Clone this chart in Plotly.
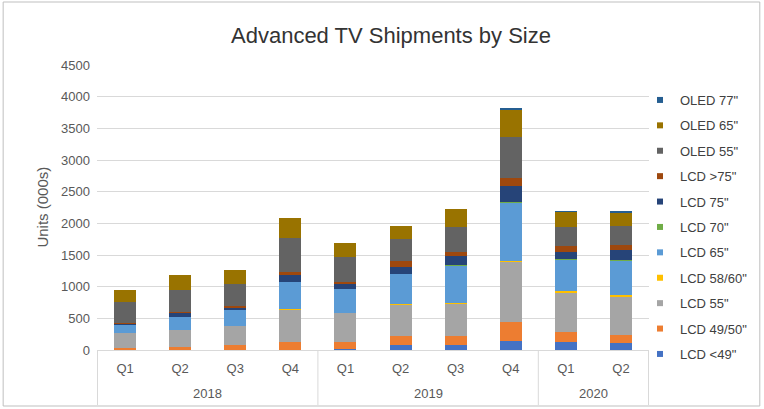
import plotly.graph_objects as go

years = ["2018", "2018", "2018", "2018", "2019", "2019", "2019", "2019", "2020", "2020"]
quarters = ["Q1", "Q2", "Q3", "Q4", "Q1", "Q2", "Q3", "Q4", "Q1", "Q2"]
year_labels = ["2018", "2019", "2020"]

series_names = ['LCD <49"', 'LCD 49/50"', 'LCD 55"', 'LCD 58/60"', 'LCD 65"', 'LCD 70"',
                'LCD 75"', 'LCD >75"', 'OLED 55"', 'OLED 65"', 'OLED 77"']

lcd_lt49 = [0, 0, 0, 0, 10, 75, 75, 150, 120, 110]
lcd_49_50 = [25, 40, 75, 130, 120, 145, 150, 290, 170, 130]
lcd_55 = [250, 275, 300, 510, 460, 500, 510, 950, 620, 590]
lcd_58_60 = [0, 0, 0, 5, 0, 5, 5, 10, 15, 40]
lcd_65 = [120, 210, 260, 435, 370, 480, 595, 925, 500, 550]
lcd_70 = [0, 0, 0, 0, 0, 0, 5, 10, 5, 5]
lcd_75 = [25, 60, 40, 100, 85, 105, 140, 250, 115, 150]
lcd_gt75 = [5, 10, 20, 55, 35, 90, 70, 130, 95, 90]
oled_55 = [340, 360, 350, 530, 385, 345, 390, 650, 300, 290]
oled_65 = [185, 230, 220, 315, 220, 210, 280, 430, 240, 220]
oled_77 = [0, 0, 0, 0, 0, 0, 0, 20, 10, 20]

series_values = [lcd_lt49, lcd_49_50, lcd_55, lcd_58_60, lcd_65, lcd_70,
                 lcd_75, lcd_gt75, oled_55, oled_65, oled_77]
colors = ["#4472C4", "#ED7D31", "#A5A5A5", "#FFC000", "#5B9BD5", "#70AD47",
          "#264478", "#9E480E", "#636363", "#997300", "#255E91"]

y_ticks = [0, 500, 1000, 1500, 2000, 2500, 3000, 3500, 4000, 4500]

cats = [y + " " + q for y, q in zip(years, quarters)]

fig = go.Figure()
for name, vals, col in zip(series_names, series_values, colors):
    fig.add_trace(go.Bar(
        x=cats, y=vals, name=name, showlegend=False,
        marker=dict(color=col, line=dict(width=0)),
    ))

# legend entries (top to bottom: OLED 77" ... LCD <49")
for i in range(len(series_names) - 1, -1, -1):
    fig.add_trace(go.Scatter(
        x=[None], y=[None], mode="markers", name=series_names[i],
        marker=dict(symbol="square", size=6, color=colors[i]),
        legendgroup="g%d" % i, showlegend=True,
    ))

W, H = 764, 409
L, R, T, B = 97, 114, 65, 59
pw, ph = W - L - R, H - T - B

def px(x):
    return (x - L) / pw

def py(y):
    return (H - B - y) / ph

group_starts = [0]
for k in range(1, len(years)):
    if years[k] != years[k - 1]:
        group_starts.append(k)
group_ends = group_starts[1:] + [len(years)]

annotations = []
for yl, s, e in zip(year_labels, group_starts, group_ends):
    annotations.append(dict(text=yl, x=(s + e - 1) / 2, xref="x", y=py(393), yref="paper",
                            showarrow=False, xanchor="center", yanchor="middle",
                            font=dict(size=13, color="#595959")))
annotations.append(dict(text="Units (000s)", x=px(42), xref="paper", y=0.5, yref="paper",
                        textangle=-90, showarrow=False, xanchor="center", yanchor="middle",
                        font=dict(size=15, color="#595959")))

shapes = [dict(type="rect", xref="paper", yref="paper",
               x0=px(3), x1=px(761), y0=py(406), y1=py(2),
               line=dict(color="#BFBFBF", width=1), fillcolor="rgba(0,0,0,0)", layer="below")]
for b in group_starts + [len(years)]:
    shapes.append(dict(type="line", xref="x", yref="paper", x0=b - 0.5, x1=b - 0.5,
                       y0=0, y1=py(405), line=dict(color="#D9D9D9", width=1)))

fig.update_layout(
    width=W, height=H,
    margin=dict(l=L, r=R, t=T, b=B),
    paper_bgcolor="white", plot_bgcolor="white",
    barmode="stack", bargap=0.6,
    font=dict(family="Liberation Sans, Arial, sans-serif", color="#595959", size=13),
    title=dict(text="Advanced TV Shipments by Size", x=391 / W, xanchor="center",
               y=1 - 35 / H, yanchor="middle",
               font=dict(size=22, color="#333333")),
    legend=dict(traceorder="grouped", tracegroupgap=5.5,
                x=px(640), xanchor="left", y=py(85), yanchor="top",
                font=dict(size=13, color="#404040"),
                bgcolor="rgba(0,0,0,0)"),
    yaxis=dict(range=[0, 4500], tickvals=y_ticks, showgrid=True,
               gridcolor="#D9D9D9", gridwidth=1, zeroline=False,
               showline=False, ticks="", ticklabelstandoff=6,
               tickfont=dict(size=13, color="#595959")),
    xaxis=dict(type="category", showline=True, linecolor="#D9D9D9",
               tickvals=cats, ticktext=quarters, ticks="", ticklabelstandoff=6,
               tickfont=dict(size=13, color="#595959"), showgrid=False),
    annotations=annotations,
    shapes=shapes,
)

fig.write_html("out.html")
